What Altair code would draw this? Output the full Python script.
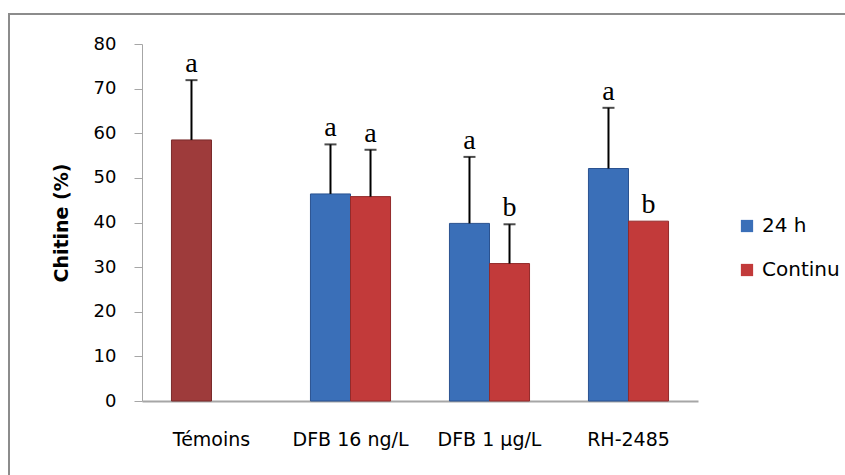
import altair as alt
import pandas as pd

# Chitin content (%) per treatment, exposure mode, with SD and significance letters
groups = ["Témoins", "DFB 16 ng/L", "DFB 16 ng/L", "DFB 1 µg/L", "DFB 1 µg/L", "RH-2485", "RH-2485"]
series = ["Témoins", "24 h", "Continu", "24 h", "Continu", "24 h", "Continu"]
slots = ["24 h", "24 h", "Continu", "24 h", "Continu", "24 h", "Continu"]
means = [58.5, 46.4, 45.8, 39.8, 30.8, 52.1, 40.3]
sds = [13.4, 11.1, 10.5, 14.9, 8.8, 13.6, 0.0]
letters = ["a", "a", "a", "a", "b", "a", "b"]

category_order = ["Témoins", "DFB 16 ng/L", "DFB 1 µg/L", "RH-2485"]
series_domain = ["24 h", "Continu", "Témoins"]
series_colors = ["#3a6fb8", "#c23a3a", "#9e3b3b"]
stroke_colors = ["#2a5290", "#932a2a", "#7a2b2b"]

df = pd.DataFrame({
    "groupe": groups,
    "serie": series,
    "slot": slots,
    "moyenne": means,
    "sd": sds,
    "lettre": letters,
})
df["haut"] = df["moyenne"] + df["sd"]

W, H = 556, 357
PAD_L, PAD_T = 142, 44

x_enc = alt.X(
    "groupe:N",
    sort=category_order,
    scale=alt.Scale(paddingInner=0.424, paddingOuter=0.212),
    axis=alt.Axis(
        title=None,
        labelAngle=0,
        labelFont="DejaVu Sans",
        labelFontSize=19,
        labelColor="#000000",
        labelPadding=29,
        ticks=False,
        domainColor="#a6a6a6",
        domainWidth=2,
    ),
)
xoff_enc = alt.XOffset("slot:N", sort=["24 h", "Continu"],
                       scale=alt.Scale(domain=["24 h", "Continu"], paddingInner=0, paddingOuter=0))
y_scale = alt.Scale(domain=[0, 80], nice=False)

base = alt.Chart(df)

bars = base.mark_bar(strokeWidth=1).encode(
    x=x_enc,
    xOffset=xoff_enc,
    y=alt.Y(
        "moyenne:Q",
        scale=y_scale,
        axis=alt.Axis(
            values=[0, 10, 20, 30, 40, 50, 60, 70, 80],
            title="Chitine (%)",
            titleFont="DejaVu Sans",
            titleFontSize=19,
            titleFontWeight="bold",
            titleColor="#000000",
            titleAngle=270,
            titleAlign="center",
            titleBaseline="middle",
            titleX=-81,
            titleY=H / 2,
            labelFont="DejaVu Sans",
            labelFontSize=18,
            labelColor="#000000",
            labelPadding=18,
            tickSize=8,
            tickColor="#a6a6a6",
            domainColor="#a6a6a6",
            grid=False,
        ),
    ),
    color=alt.Color(
        "serie:N",
        scale=alt.Scale(domain=series_domain, range=series_colors),
        legend=alt.Legend(
            values=["24 h", "Continu"],
            title=None,
            orient="none",
            legendX=595,
            legendY=172,
            symbolType="square",
            symbolSize=150,
            symbolStrokeWidth=0,
            symbolOpacity=1,
            labelFont="DejaVu Sans",
            labelFontSize=20,
            labelColor="#000000",
            labelOffset=5,
            rowPadding=24,
        ),
    ),
    stroke=alt.Stroke("serie:N", scale=alt.Scale(domain=series_domain, range=stroke_colors), legend=None),
)

err = base.transform_filter(alt.datum.sd > 0)

err_rules = err.mark_rule(color="#000000", strokeWidth=2).encode(
    x=x_enc,
    xOffset=xoff_enc,
    y=alt.Y("moyenne:Q", scale=y_scale),
    y2="haut:Q",
)

err_caps = err.mark_tick(color="#000000", thickness=2, size=12, orient="horizontal").encode(
    x=x_enc,
    xOffset=xoff_enc,
    y=alt.Y("haut:Q", scale=y_scale),
)

labels = base.mark_text(
    font="Liberation Serif", fontSize=28, color="#000000", baseline="bottom", dy=-2
).encode(
    x=x_enc,
    xOffset=xoff_enc,
    y=alt.Y("haut:Q", scale=y_scale),
    text="lettre:N",
)

# Outer frame around the whole figure
frame = alt.Chart(pd.DataFrame({"k": [0]})).mark_rect(
    fill=None, stroke="#8c8c8c", strokeWidth=2
).encode(
    x=alt.value(9 - PAD_L),
    x2=alt.value(900 - PAD_L),
    y=alt.value(14 - PAD_T),
    y2=alt.value(520 - PAD_T),
)

chart = alt.layer(frame, bars, err_rules, err_caps, labels).properties(
    width=W,
    height=H,
    autosize=alt.AutoSizeParams(type="none"),
    padding={"left": PAD_L, "top": PAD_T, "right": 845 - PAD_L - W, "bottom": 475 - PAD_T - H},
    background="#ffffff",
).configure_view(stroke=None)

chart.save("out.html", embed_options={"renderer": "svg", "actions": False})
